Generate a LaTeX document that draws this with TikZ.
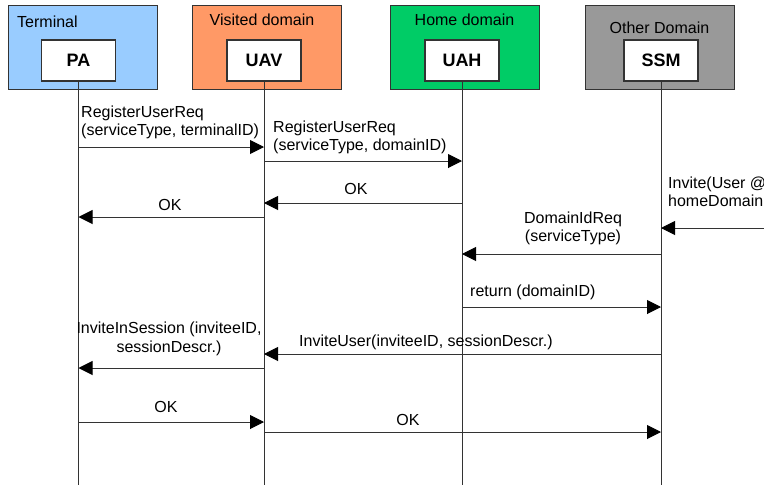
\documentclass[tikz,border=0pt]{standalone}
\usepackage{fontspec}
\setmainfont{Liberation Sans}
\usetikzlibrary{arrows.meta}
\definecolor{termblue}{HTML}{99CCFF}
\definecolor{visorange}{HTML}{FF9966}
\definecolor{homegreen}{HTML}{00CC66}
\definecolor{othergray}{HTML}{999999}
\definecolor{edgegray}{HTML}{333333}
\tikzset{
  domainbox/.style={draw=edgegray, line width=1.2pt, minimum width=149pt, minimum height=84pt, anchor=north west, inner sep=0pt},
  entity/.style={draw=edgegray, fill=white, line width=1.2pt, minimum width=74pt, minimum height=41pt, inner sep=0pt, font=\fontsize{18}{20}\selectfont\bfseries},
  lifeline/.style={draw=black!80, line width=1pt},
  msg/.style={draw=black!80, line width=1pt, -{Triangle[length=14pt,width=14pt,color=black]}},
  lbl/.style={font=\fontsize{16}{18.5}\selectfont, inner sep=0pt},
}
\begin{document}
\begin{tikzpicture}[x=1pt,y=-1pt]
  \useasboundingbox (0,0) rectangle (764,485);
  \clip (0,0) rectangle (764,485);
  % domain frames
  \node[domainbox, fill=termblue]   (term)  at (8,5)   {};
  \node[domainbox, fill=visorange]  (vis)   at (192,5) {};
  \node[domainbox, fill=homegreen]  (home)  at (390,5) {};
  \node[domainbox, fill=othergray]  (other) at (585,5) {};
  \node[lbl, anchor=base west] (termT)  at (17,27)    {Terminal};
  \node[lbl, anchor=base]      (visT)   at (262,25)   {Visited domain};
  \node[lbl, anchor=base]      (homeT)  at (464.5,25) {Home domain};
  \node[lbl, anchor=base]      (otherT) at (659.5,33) {Other Domain};
  % entities
  \node[entity] (pa)  at (78.5,60.5) {PA};
  \node[entity] (uav) at (264,60.5)  {UAV};
  \node[entity] (uah) at (462,60.5)  {UAH};
  \node[entity] (ssm) at (661,60.5)  {SSM};
  % lifelines
  \coordinate (bottom) at (0,486);
  \foreach \e in {pa,uav,uah,ssm}
    \draw[lifeline] (\e.south) -- (\e.south |- bottom);
  % message rows
  \coordinate (m1) at (0,147);
  \coordinate (m2) at (0,161);
  \coordinate (m3) at (0,203);
  \coordinate (m4) at (0,217);
  \coordinate (m5) at (0,228);
  \coordinate (m6) at (0,254);
  \coordinate (m7) at (0,307);
  \coordinate (m8) at (0,354);
  \coordinate (m9) at (0,368);
  \coordinate (m10) at (0,422);
  \coordinate (m11) at (0,432);
  \coordinate (ext) at (765,228);
  % messages
  \draw[msg] (pa.south |- m1) -- (uav.south |- m1);
  \draw[msg] (uav.south |- m2) -- (uah.south |- m2);
  \draw[msg] (uah.south |- m3) -- (uav.south |- m3);
  \draw[msg] (uav.south |- m4) -- (pa.south |- m4);
  \draw[msg] (ext) -- (ssm.south |- m5);
  \draw[msg] (ssm.south |- m6) -- (uah.south |- m6);
  \draw[msg] (uah.south |- m7) -- (ssm.south |- m7);
  \draw[msg] (ssm.south |- m8) -- (uav.south |- m8);
  \draw[msg] (uav.south |- m9) -- (pa.south |- m9);
  \draw[msg] (pa.south |- m10) -- (uav.south |- m10);
  \draw[msg] (uav.south |- m11) -- (ssm.south |- m11);
  % message labels (base anchor of a multi-line label = its last line)
  \node[lbl, anchor=base west, align=left] (l1) at (81,135.5) {RegisterUserReq\\(serviceType, terminalID)};
  \node[lbl, anchor=base west, align=left] (l2) at (273,150.5) {RegisterUserReq\\(serviceType, domainID)};
  \node[lbl, anchor=base] (l3) at (356,194) {OK};
  \node[lbl, anchor=base] (l4) at (170,210) {OK};
  \node[lbl, anchor=base west, align=left] (l5) at (668,206.5) {Invite(User @\\homeDomain};
  \node[lbl, anchor=base, align=center] (l6) at (573,241.5) {DomainIdReq\\(serviceType)};
  \node[lbl, anchor=base west] (l7) at (470,296) {return (domainID)};
  \node[lbl, anchor=base west] (l8) at (299,346) {InviteUser(inviteeID, sessionDescr.)};
  \node[lbl, anchor=base, align=center] (l9) at (169,352) {InviteInSession (inviteeID,\\sessionDescr.)};
  \node[lbl, anchor=base] (l10) at (166,412) {OK};
  \node[lbl, anchor=base] (l11) at (408,425) {OK};
\end{tikzpicture}
\end{document}
